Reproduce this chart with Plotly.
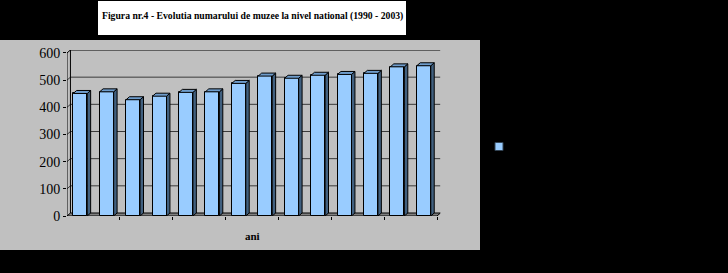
import plotly.graph_objects as go

# ---- data ----
years = list(range(1990, 2004))
museums = [451, 457, 428, 441, 455, 457, 488, 515, 507, 518, 521, 525, 549, 553]
y_ticks = [0, 100, 200, 300, 400, 500, 600]
title_text = "Figura nr.4 - Evolutia numarului de muzee la nivel national (1990 - 2003)"
x_title = "ani"
series_name = "Numar muzee"

W, H = 728, 273
n = len(years)
xs = list(range(n))
bw = 0.53          # bar width (category units)
dx = 0.13          # depth offset in x units
dy = 11            # depth offset in value units
ymax = y_ticks[-1]

FRONT = "#99CCFF"
SIDE = "#41607F"
TOP = "#6E9CCB"
SERIF = "Liberation Serif, Times New Roman, Times, serif"

fig = go.Figure()

# front faces of bars
fig.add_trace(go.Bar(x=xs, y=museums, width=bw, marker=dict(color=FRONT, line=dict(color="black", width=1)),
                     showlegend=False, hoverinfo="skip"))

# side and top faces
sx, sy = [], []
tx, ty = [], []
for i, v in zip(xs, museums):
    r = i + bw / 2
    l = i - bw / 2
    sx += [r, r + dx, r + dx, r, r, None]
    sy += [0, dy, v + dy, v, 0, None]
    tx += [l, r, r + dx, l + dx, l, None]
    ty += [v, v, v + dy, v + dy, v, None]
fig.add_trace(go.Scatter(x=sx, y=sy, mode="lines", fill="toself", fillcolor=SIDE,
                         line=dict(color="black", width=1), showlegend=False, hoverinfo="skip"))
fig.add_trace(go.Scatter(x=tx, y=ty, mode="lines", fill="toself", fillcolor=TOP,
                         line=dict(color="black", width=1), showlegend=False, hoverinfo="skip"))

# legend entry
fig.add_trace(go.Scatter(x=[None], y=[None], mode="markers", name=series_name,
                         marker=dict(symbol="square", size=8, color=FRONT, line=dict(color="#334455", width=1))))

shapes = []
# gray panel
shapes.append(dict(type="rect", xref="paper", yref="paper", x0=0, x1=480 / W, y0=(H - 250) / H, y1=(H - 40) / H,
                   fillcolor="#C0C0C0", line=dict(width=0), layer="below"))
# title box
shapes.append(dict(type="rect", xref="paper", yref="paper", x0=98 / W, x1=406 / W, y0=(H - 35) / H, y1=(H - 1) / H,
                   fillcolor="white", line=dict(width=0), layer="below"))
x0f, x1f = -0.5, n - 0.5
# floor
shapes.append(dict(type="path", xref="x", yref="y", layer="below",
                   path=f"M{x0f},0 L{x1f},0 L{x1f + dx},{dy} L{x0f + dx},{dy} Z",
                   fillcolor="#808080", line=dict(color="black", width=1)))
# gridlines on back wall and left wall
for v in y_ticks[1:]:
    col = "black" if v == ymax else "#3a3a3a"
    shapes.append(dict(type="path", xref="x", yref="y", layer="below",
                       path=f"M{x0f},{v} L{x0f + dx},{v + dy} L{x1f + dx},{v + dy}",
                       line=dict(color=col, width=1)))
# back wall left edge
shapes.append(dict(type="line", xref="x", yref="y", layer="below", x0=x0f + dx, x1=x0f + dx, y0=dy, y1=ymax + dy,
                   line=dict(color="black", width=1)))
# front axis line
shapes.append(dict(type="line", xref="x", yref="y", layer="below", x0=x0f, x1=x0f, y0=0, y1=ymax,
                   line=dict(color="black", width=1)))

# pixel geometry
px_left, px_front_right = 67, 437
unit = (px_front_right - px_left) / n
px_right = px_left + (n + dx) * unit
y0_px, ytop_px = 216, 50

fig.update_layout(
    template="none",
    width=W, height=H,
    autosize=False,
    margin=dict(l=0, r=0, t=0, b=0, pad=0, autoexpand=False),
    paper_bgcolor="black",
    plot_bgcolor="rgba(0,0,0,0)",
    shapes=shapes,
    bargap=0,
    xaxis=dict(domain=[px_left / W, px_right / W], range=[x0f, x1f + dx], showgrid=False, zeroline=False,
               showline=False, tickmode="array", tickvals=[x0f + 2 * k for k in range(1, n // 2 + 1)],
               ticks="outside", ticklen=3, tickcolor="black", showticklabels=False, fixedrange=True,
               automargin=False),
    yaxis=dict(domain=[(H - y0_px) / H, (H - ytop_px) / H], range=[0, ymax + dy], showgrid=False, zeroline=False,
               showline=False, tickmode="array", tickvals=y_ticks, ticks="outside", ticklen=3, tickcolor="black",
               tickfont=dict(family=SERIF, size=14, color="black"), fixedrange=True, automargin=False),
    legend=dict(x=(499 - 20) / W, y=(H - 146.5) / H, xanchor="left", yanchor="middle",
                bgcolor="rgba(0,0,0,0)", font=dict(color="black", family=SERIF, size=11)),
    showlegend=True,
    annotations=[
        dict(text=f"<b>{title_text}</b>", xref="paper", yref="paper", x=252 / W, y=(H - 16) / H,
             xanchor="center", yanchor="middle", showarrow=False,
             font=dict(family=SERIF, size=9.7, color="black")),
        dict(text=f"<b>{x_title}</b>", xref="paper", yref="paper", x=252 / W, y=(H - 236) / H,
             xanchor="center", yanchor="middle", showarrow=False,
             font=dict(family=SERIF, size=11, color="black")),
    ],
)

fig.write_html("out.html")
